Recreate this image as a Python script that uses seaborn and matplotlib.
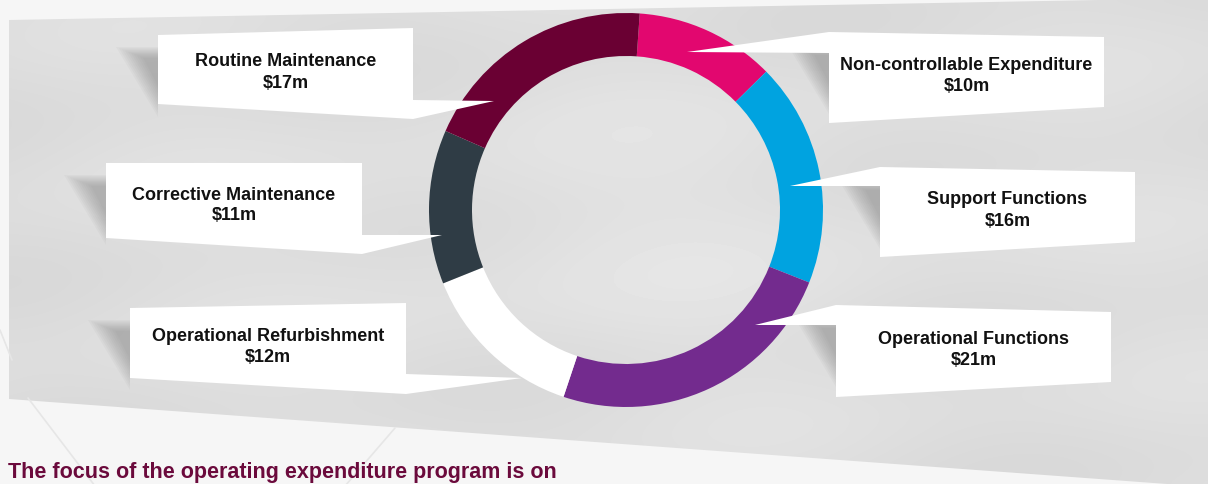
import numpy as np
import matplotlib
matplotlib.use("Agg")
import matplotlib.pyplot as plt
from matplotlib.patches import Polygon
import seaborn as sns

# ---- data ----
categories = ["Non-controllable Expenditure", "Support Functions", "Operational Functions",
              "Operational Refurbishment", "Corrective Maintenance", "Routine Maintenance"]
values = [10, 16, 21, 12, 11, 17]
value_labels = ["$10m", "$16m", "$21m", "$12m", "$11m", "$17m"]
colors = ["#e2076f", "#00a3e0", "#732b8e", "#ffffff", "#2f3c45", "#6a0033"]
caption = "The focus of the operating expenditure program is on"

sns.set_style("white")
plt.rcParams["font.family"] = ["Liberation Sans", "DejaVu Sans"]

W, H = 1208, 484
fig = plt.figure(figsize=(W / 100, H / 100), dpi=100)
fig.patch.set_facecolor("#f6f6f6")
ax = fig.add_axes([0, 0, 1, 1])
ax.set_facecolor("#f6f6f6")

# ---- background ----
trap = Polygon([(9, 20), (1208, -2), (1208, 487), (9, 399)], closed=True,
               facecolor="none", edgecolor="none")
ax.add_patch(trap)
xx, yy = np.meshgrid(np.linspace(0, W, 300), np.linspace(0, H, 120))
field = (0.865 + 0.018 * np.sin(xx / 110.0 + yy / 60.0) * np.cos(yy / 45.0 - xx / 230.0)
         + 0.02 * np.exp(-((xx - 640) ** 2 / 9e4 + (yy - 230) ** 2 / 2e4)))
img = ax.imshow(field, cmap="gray", vmin=0, vmax=1, extent=(0, W, H, 0),
                interpolation="bicubic", zorder=0, aspect="auto")
img.set_clip_path(trap)

# faint lines in the light area
for (x0, y0, x1, y1) in [(28, 398, 95, 486), (395, 428, 345, 486), (0, 330, 12, 360)]:
    ax.plot([x0, x1], [y0, y1], color="#e6e6e6", lw=1.2, zorder=0.5)

# ---- donut ----
cx, cy, R, ring = 626, 210, 197, 43
ax.pie(values, colors=sns.color_palette(colors), startangle=-86, counterclock=True,
       center=(cx, cy), radius=R, wedgeprops=dict(width=ring, edgecolor="none", linewidth=0))

# ---- label boxes ----
boxes = [
    dict(L=829, TL=32, R=1104, TR=37, BL=123, BR=107, tip=(687, 52), base=(32, 53), side="left"),
    dict(L=880, TL=167, R=1135, TR=172, BL=257, BR=242, tip=(790, 186), base=(167, 186), side="left"),
    dict(L=836, TL=305, R=1111, TR=312, BL=397, BR=382, tip=(755, 325), base=(305, 325), side="left"),
    dict(L=130, TL=308, R=406, TR=303, BL=378, BR=394, tip=(522, 378), base=(374, 394), side="right"),
    dict(L=106, TL=163, R=362, TR=163, BL=238, BR=254, tip=(442, 235), base=(235, 254), side="right"),
    dict(L=158, TL=35, R=413, TR=28, BL=104, BR=119, tip=(494, 101), base=(100, 119), side="right"),
]

for b in boxes:
    L, T = b["L"], b["TL"]
    # soft shadow on the left side
    for k in range(10):
        s = k / 10.0
        sh = [(L, T + 12 + 12 * s), (L - 42 + 30 * s, T + 12 + 12 * s), (L, T + 82 - 34 * s)]
        ax.add_patch(Polygon(sh, closed=True, facecolor="#7a7a7a", edgecolor="none",
                             alpha=0.055, zorder=1))

for b, name, val in zip(boxes, categories, value_labels):
    L, R = b["L"], b["R"]
    if b["side"] == "left":
        pts = [(L, b["TL"]), (R, b["TR"]), (R, b["BR"]), (L, b["BL"]),
               (L, b["base"][1]), b["tip"], (L, b["base"][0])]
    else:
        pts = [(L, b["TL"]), (R, b["TR"]), (R, b["base"][0]), b["tip"],
               (R, b["base"][1]), (R, b["BR"]), (L, b["BL"])]
    ax.add_patch(Polygon(pts, closed=True, facecolor="white", edgecolor="none", zorder=3))
    tx = (L + R) / 2
    ty = (b["TL"] + b["TR"] + b["BL"] + b["BR"]) / 4 + 1
    ax.text(tx, ty - 10.5, name, ha="center", va="center", fontsize=13, fontweight="bold",
            color="#111111", zorder=4)
    ax.text(tx, ty + 10.5, val, ha="center", va="center", fontsize=13, fontweight="bold",
            color="#111111", zorder=4)

# ---- caption ----
ax.text(8, 478, caption, ha="left", va="baseline", fontsize=15.5, fontweight="bold",
        color="#6b0a3c", zorder=4)

ax.set_xlim(0, W)
ax.set_ylim(H, 0)
ax.set_aspect("auto")
ax.axis("off")
fig.savefig("out.png", dpi=100, facecolor=fig.get_facecolor())
